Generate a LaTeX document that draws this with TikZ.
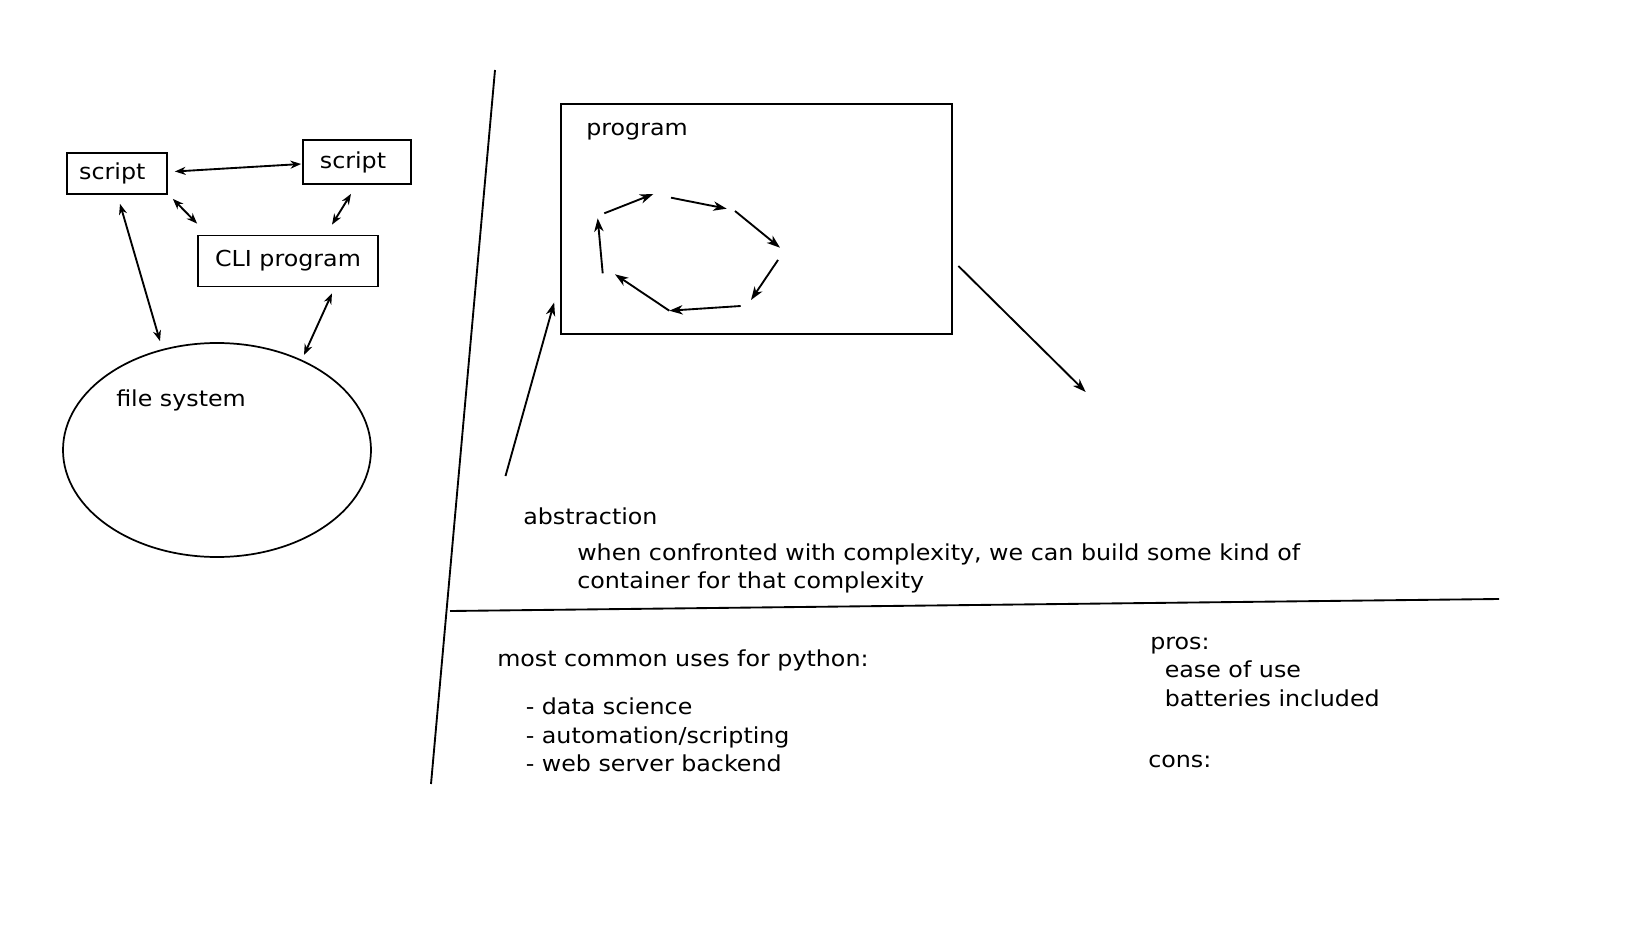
\documentclass[tikz,border=0pt]{standalone}
\usepackage{fontspec}
\setmainfont{DejaVu Sans}[FakeStretch=1.08]
\usetikzlibrary{arrows.meta,shapes.geometric}
\begin{document}
\begin{tikzpicture}[x=0.75pt,y=-0.75pt,
  every node/.style={font=\fontsize{16.5}{21.4}\selectfont},
  ln/.style={line width=1.4pt},
  tip/.style={-{Stealth[length=10pt,width=7pt,inset=3pt]}},
  dtip/.style={{Stealth[length=8pt,width=6pt,inset=2.5pt]}-{Stealth[length=8pt,width=6pt,inset=2.5pt]}},
  box/.style={draw,line width=1.3pt,inner sep=0pt},
  txt/.style={anchor=west,inner sep=0pt,align=left}]
\useasboundingbox (0,0) rectangle (1648,927);
% left cluster
\node[box,minimum width=100pt*0.75,minimum height=41pt*0.75] (s1) at (117,173.5) {script\kern7pt};
\node[box,minimum width=108pt*0.75,minimum height=44pt*0.75] (s2) at (357,162) {script\kern6pt};
\node[box,minimum width=180pt*0.75,minimum height=51pt*0.75] (cli) at (288,261) {CLI program};
\node[draw,ellipse,line width=1.3pt,minimum width=308pt*0.75,minimum height=214pt*0.75,inner sep=0pt] (fs) at (217,450) {};
\node[txt] (fslab) at (116,400) {file system};
\draw[ln,dtip] ([shift={(7,-2)}]s1.east) -- ([shift={(-1,2)}]s2.west);
\draw[ln,dtip] ([shift={(5,4)}]s1.south east) -- ([shift={(0,-11)}]cli.north west);
\draw[ln,dtip] ([shift={(-6,9)}]s2.south) -- ([shift={(44,-10)}]cli.north);
\draw[ln,dtip] ([shift={(3,9)}]s1.south) -- ([shift={(-57,-1)}]fs.north);
\draw[ln,dtip] ([shift={(44,6)}]cli.south) -- ([shift={(87,-95)}]fs.center);
% dividers
\draw[ln] (495,70) -- (431,784);
\draw[ln] (450,611) -- (1499,599);
% program box
\node[box,minimum width=391pt*0.75,minimum height=230pt*0.75] (prog) at (756.5,219) {};
\node[txt] (proglab) at (586,132) {program};
\draw[ln,tip] (604.3,213.3) -- (653.3,194);
\draw[ln,tip] (671,197.7) -- (726.7,208.7);
\draw[ln,tip] (735,211) -- (780,247.7);
\draw[ln,tip] (778,260) -- (751,300);
\draw[ln,tip] (740.7,306) -- (669.3,310.7);
\draw[ln,tip] (669.3,310.7) -- (615,274.3);
\draw[ln,tip] (602.7,273.3) -- (597.7,218.3);
\coordinate (ain) at (505.5,476);
\coordinate (aout) at (1085.7,392);
\draw[ln,tip] (ain) -- ([shift={(-6,-32.4)}]prog.south west);
\draw[ln,tip] ([shift={(5.5,47)}]prog.east) -- (aout);
% texts
\node[txt] (abs) at (523,516) {abstraction};
\node[txt] (absd) at (577,568.5) {when confronted with complexity, we can build some kind of\\container for that complexity};
\node[txt] (uses) at (497,660) {most common uses for python:};
\node[txt] (usesl) at (525.5,735) {- data science\\- automation/scripting\\- web server backend};
\node[txt] (pros) at (1150,646) {pros:};
\node[txt] (prosl) at (1164.5,684) {ease of use\\batteries included};
\node[txt] (cons) at (1148,761) {cons:};
\end{tikzpicture}
\end{document}
